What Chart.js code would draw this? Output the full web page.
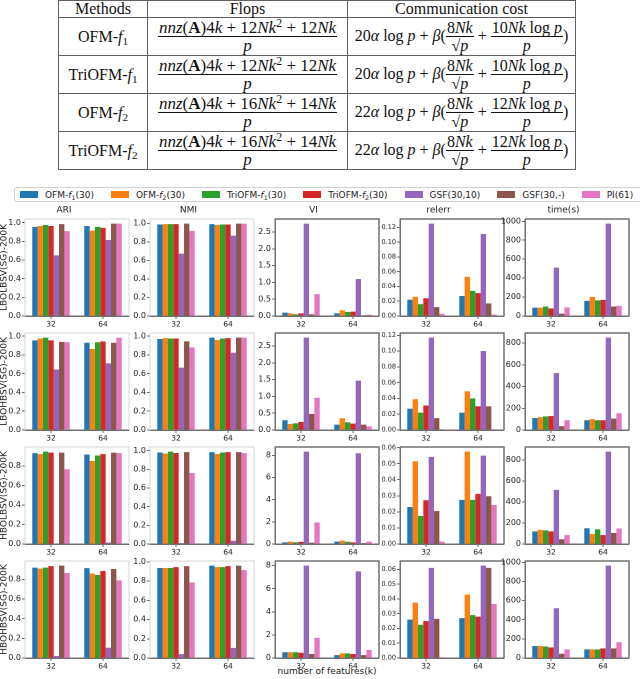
<!DOCTYPE html>
<html><head><meta charset="utf-8">
<script src="https://cdn.jsdelivr.net/npm/chart.js@4.4.0/dist/chart.umd.min.js"></script>
<style>
html,body{margin:0;padding:0;background:#fff;}
body{width:640px;height:679px;position:relative;overflow:hidden;font-family:"DejaVu Sans",sans-serif;}
#tbl{position:absolute;left:58px;top:0;width:517px;border-collapse:collapse;font-family:"Liberation Serif",serif;font-size:16px;color:#111;table-layout:fixed;}
#tbl td,#tbl th{border:1.5px solid #606060;text-align:center;padding:0;font-weight:normal;white-space:nowrap;}
#tbl th{height:16px;line-height:16px;}
#tbl td{height:37px;line-height:16px;}
#tbl td.fl{font-size:17px;}
.fr{display:inline-flex;flex-direction:column;vertical-align:middle;text-align:center;}
.fr>.n{border-bottom:1px solid #111;padding:0 1px;line-height:17px;}
.fr>.d{line-height:18px;}
.ov{text-decoration:overline;}
sup{font-size:70%;line-height:0;vertical-align:6px;}
sub{font-size:70%;line-height:0;vertical-align:-3px;}
#legend{position:absolute;left:14px;top:187px;width:640px;height:15px;border:1px solid #d0d0d0;border-radius:3px;display:flex;align-items:center;padding-left:5px;box-sizing:border-box;font-size:9px;color:#222;}
.li{display:flex;align-items:center;margin-right:17px;white-space:nowrap;}
.sw{width:18px;height:6.3px;margin-right:7px;}
.li sub{font-size:70%;vertical-align:-2px;}
.pn{position:absolute;}
#xl{position:absolute;left:227px;width:200px;top:666px;text-align:center;font-size:9px;color:#222;}
</style></head>
<body>
<table id="tbl">
<colgroup><col style="width:89px"><col style="width:200px"><col style="width:228px"></colgroup>
<tr><th>Methods</th><th>Flops</th><th>Communication cost</th></tr>
<tr><td>OFM-<i>f</i><sub>1</sub></td>
<td class="fl"><span class="fr"><span class="n"><i>nnz</i>(<b>A</b>)4<i>k</i> + 12<i>Nk</i><sup>2</sup> + 12<i>Nk</i></span><span class="d"><i>p</i></span></span></td>
<td>20<i>α</i> log <i>p</i> + <i>β</i>(<span class="fr"><span class="n">8<i>Nk</i></span><span class="d">√<span class="ov"><i>p</i></span></span></span> + <span class="fr"><span class="n">10<i>Nk</i> log <i>p</i></span><span class="d"><i>p</i></span></span>)</td></tr>
<tr><td>TriOFM-<i>f</i><sub>1</sub></td>
<td class="fl"><span class="fr"><span class="n"><i>nnz</i>(<b>A</b>)4<i>k</i> + 12<i>Nk</i><sup>2</sup> + 12<i>Nk</i></span><span class="d"><i>p</i></span></span></td>
<td>20<i>α</i> log <i>p</i> + <i>β</i>(<span class="fr"><span class="n">8<i>Nk</i></span><span class="d">√<span class="ov"><i>p</i></span></span></span> + <span class="fr"><span class="n">10<i>Nk</i> log <i>p</i></span><span class="d"><i>p</i></span></span>)</td></tr>
<tr><td>OFM-<i>f</i><sub>2</sub></td>
<td class="fl"><span class="fr"><span class="n"><i>nnz</i>(<b>A</b>)4<i>k</i> + 16<i>Nk</i><sup>2</sup> + 14<i>Nk</i></span><span class="d"><i>p</i></span></span></td>
<td>22<i>α</i> log <i>p</i> + <i>β</i>(<span class="fr"><span class="n">8<i>Nk</i></span><span class="d">√<span class="ov"><i>p</i></span></span></span> + <span class="fr"><span class="n">12<i>Nk</i> log <i>p</i></span><span class="d"><i>p</i></span></span>)</td></tr>
<tr><td>TriOFM-<i>f</i><sub>2</sub></td>
<td class="fl"><span class="fr"><span class="n"><i>nnz</i>(<b>A</b>)4<i>k</i> + 16<i>Nk</i><sup>2</sup> + 14<i>Nk</i></span><span class="d"><i>p</i></span></span></td>
<td>22<i>α</i> log <i>p</i> + <i>β</i>(<span class="fr"><span class="n">8<i>Nk</i></span><span class="d">√<span class="ov"><i>p</i></span></span></span> + <span class="fr"><span class="n">12<i>Nk</i> log <i>p</i></span><span class="d"><i>p</i></span></span>)</td></tr>
</table>
<div id="legend"></div>
<div id="xl">number of features(k)</div>
<script>
// ---------- data ----------
const categories = ['32', '64'];
const seriesNames = ['OFM-f1(30)', 'OFM-f2(30)', 'TriOFM-f1(30)', 'TriOFM-f2(30)', 'GSF(30,10)', 'GSF(30,-)', 'PI(61)'];
const seriesLegendHtml = ['OFM-<i>f</i><sub>1</sub>(30)', 'OFM-<i>f</i><sub>2</sub>(30)', 'TriOFM-<i>f</i><sub>1</sub>(30)', 'TriOFM-<i>f</i><sub>2</sub>(30)', 'GSF(30,10)', 'GSF(30,-)', 'PI(61)'];
const seriesColors = ['#1f77b4', '#ff7f0e', '#2ca02c', '#d62728', '#9467bd', '#8c564b', '#e377c2'];
const rowNames = ['LBOLBSV(SG)-200K', 'LBOHBSV(SG)-200K', 'HBOLBSV(SG)-200K', 'HBOHBSV(SG)-200K'];
const metricTitles = ['ARI', 'NMI', 'VI', 'relerr', 'time(s)'];

// each entry: [value at k=32, value at k=64], one per series
const lbolbsvARI    = [[0.955,0.965],[0.965,0.915],[0.975,0.955],[0.965,0.945],[0.65,0.815],[0.985,0.99],[0.91,0.99]];
const lbolbsvNMI    = [[0.99,0.995],[0.995,0.985],[0.995,0.99],[0.995,0.99],[0.675,0.87],[1.0,1.0],[0.92,1.0]];
const lbolbsvVI     = [[0.1,0.08],[0.08,0.17],[0.05,0.12],[0.08,0.13],[2.75,1.1],[0.05,0.02],[0.65,0.04]];
const lbolbsvRelerr = [[0.022,0.027],[0.026,0.053],[0.016,0.034],[0.024,0.031],[0.125,0.111],[0.012,0.017],[0.003,0.002]];
const lbolbsvTime   = [[88,160],[88,200],[100,165],[80,170],[510,975],[25,100],[90,108]];

const lbohbsvARI    = [[0.955,0.93],[0.975,0.865],[0.985,0.935],[0.955,0.945],[0.645,0.71],[0.94,0.93],[0.935,0.985]];
const lbohbsvNMI    = [[0.97,0.985],[0.98,0.96],[0.975,0.975],[0.975,0.98],[0.665,0.825],[0.945,0.985],[0.88,0.985]];
const lbohbsvVI     = [[0.29,0.16],[0.18,0.35],[0.2,0.23],[0.24,0.19],[2.75,1.47],[0.48,0.16],[0.96,0.11]];
const lbohbsvRelerr = [[0.027,0.022],[0.039,0.049],[0.022,0.04],[0.031,0.03],[0.117,0.1],[0.015,0.03],[0.001,0.001]];
const lbohbsvTime   = [[110,90],[118,100],[125,90],[128,90],[525,850],[35,105],[90,155]];

const hbolbsvARI    = [[0.93,0.915],[0.92,0.85],[0.945,0.905],[0.935,0.92],[0.0,0.015],[0.935,0.935],[0.765,0.93]];
const hbolbsvNMI    = [[0.98,0.985],[0.97,0.965],[0.99,0.98],[0.975,0.985],[0.01,0.035],[0.985,0.985],[0.76,0.975]];
const hbolbsvVI     = [[0.15,0.22],[0.22,0.3],[0.15,0.2],[0.2,0.15],[8.35,8.2],[0.12,0.08],[1.95,0.22]];
const hbolbsvRelerr = [[0.023,0.0275],[0.0515,0.0575],[0.0175,0.0275],[0.0272,0.0312],[0.0542,0.055],[0.0205,0.0297],[0.0015,0.0243]];
const hbolbsvTime   = [[120,150],[135,95],[130,140],[120,85],[515,880],[45,105],[85,148]];

const hbohbsvARI    = [[0.92,0.915],[0.91,0.86],[0.92,0.845],[0.935,0.885],[0.02,0.105],[0.94,0.905],[0.865,0.79]];
const hbohbsvNMI    = [[0.935,0.96],[0.935,0.945],[0.935,0.945],[0.945,0.955],[0.04,0.105],[0.955,0.96],[0.785,0.915]];
const hbohbsvVI     = [[0.5,0.25],[0.5,0.4],[0.5,0.4],[0.45,0.35],[8.0,7.5],[0.35,0.25],[1.75,0.7]];
const hbohbsvRelerr = [[0.026,0.027],[0.0375,0.043],[0.0225,0.029],[0.025,0.028],[0.061,0.0625],[0.0265,0.061],[0.0005,0.0365]];
const hbohbsvTime   = [[125,90],[125,90],[120,90],[110,100],[520,965],[45,100],[90,165]];

// tick values
const ticksUnit    = [0, 0.2, 0.4, 0.6, 0.8, 1.0];
const ticksVISmall = [0, 0.5, 1.0, 1.5, 2.0, 2.5];
const ticksVILarge = [0, 2, 4, 6, 8];
const ticksRelA    = [0, 0.02, 0.04, 0.06, 0.08, 0.10, 0.12];
const ticksRelB    = [0, 0.01, 0.02, 0.03, 0.04, 0.05, 0.06];
const ticksTime    = [0, 200, 400, 600, 800, 1000];

// ---------- assembly ----------
const panelData = [
  [lbolbsvARI, lbolbsvNMI, lbolbsvVI, lbolbsvRelerr, lbolbsvTime],
  [lbohbsvARI, lbohbsvNMI, lbohbsvVI, lbohbsvRelerr, lbohbsvTime],
  [hbolbsvARI, hbolbsvNMI, hbolbsvVI, hbolbsvRelerr, hbolbsvTime],
  [hbohbsvARI, hbohbsvNMI, hbohbsvVI, hbohbsvRelerr, hbohbsvTime]
];
const panelTicks = [
  [ticksUnit, ticksUnit, ticksVISmall, ticksRelA, ticksTime],
  [ticksUnit, ticksUnit, ticksVISmall, ticksRelA, ticksTime],
  [ticksUnit, ticksUnit, ticksVILarge, ticksRelB, ticksTime],
  [ticksUnit, ticksUnit, ticksVILarge, ticksRelB, ticksTime]
];
const panelDecimals = [[1,1,1,2,0],[1,1,1,2,0],[1,1,0,2,0],[1,1,0,2,0]];

// legend
const legendEl = document.getElementById('legend');
seriesLegendHtml.forEach((h, i) => {
  const d = document.createElement('div'); d.className = 'li';
  d.innerHTML = '<span class="sw" style="background:' + seriesColors[i] + '"></span><span>' + h + '</span>';
  legendEl.appendChild(d);
});

// layout
const colLeft = [25, 150, 275, 400, 525];
const plotW = 104;
const rowTop = [219, 333, 447, 561];
const plotH = 97;

const framePlugin = {
  id: 'frame',
  afterDraw(chart, args, opts) {
    const {ctx, chartArea: a} = chart;
    ctx.save();
    ctx.strokeStyle = opts.color; ctx.lineWidth = opts.width;
    ctx.beginPath();
    ctx.moveTo(a.left, a.top); ctx.lineTo(a.right, a.top); ctx.lineTo(a.right, a.bottom);
    ctx.stroke();
    ctx.restore();
  }
};

function makePanel(r, c) {
  const series = panelData[r][c];
  const ymax = Math.max(...series.flat()) * 1.05;
  const tickVals = panelTicks[r][c];
  const dec = panelDecimals[r][c];
  const light = c < 2;
  const yW = c === 0 ? 26 : 27;
  const topPad = r === 0 ? 14 : 6;
  const xH = 15;
  const rightPad = 3;
  const cw = yW + plotW + rightPad, ch = topPad + plotH + xH;
  const div = document.createElement('div');
  div.className = 'pn';
  div.style.left = (colLeft[c] - yW) + 'px';
  div.style.top = (rowTop[r] - topPad) + 'px';
  div.style.width = cw + 'px'; div.style.height = ch + 'px';
  const cv = document.createElement('canvas');
  cv.width = cw; cv.height = ch;
  cv.style.width = cw + 'px'; cv.style.height = ch + 'px';
  div.appendChild(cv);
  document.body.appendChild(div);
  new Chart(cv, {
    type: 'bar',
    data: {
      labels: categories,
      datasets: seriesNames.map((n, i) => ({
        label: n, data: series[i], backgroundColor: seriesColors[i],
        borderWidth: 0, barPercentage: 1.0, categoryPercentage: 0.72
      }))
    },
    options: {
      responsive: false, animation: false, devicePixelRatio: 2,
      layout: {padding: {top: r === 0 ? 0 : topPad, right: rightPad, left: 0, bottom: 0}},
      plugins: {
        legend: {display: false}, tooltip: {enabled: false},
        title: {display: r === 0, text: metricTitles[c], color: '#222',
                font: {family: 'DejaVu Sans', size: 9, weight: 'normal'}, padding: {top: 0, bottom: 3.2}},
        frame: {color: light ? '#d4d4d4' : '#707070', width: light ? 1 : 1.5}
      },
      scales: {
        x: {
          offset: true,
          grid: {display: true, drawOnChartArea: false, drawTicks: true, tickLength: 3, offset: false, color: '#444', lineWidth: 0.8},
          border: {display: true, color: '#707070', width: 1.5},
          ticks: {font: {family: 'DejaVu Sans', size: 7.5}, color: '#222', padding: 1, maxRotation: 0},
          afterFit: s => { s.height = xH; s.paddingLeft = 0; s.paddingRight = 0; }
        },
        y: {
          min: 0, max: ymax,
          afterBuildTicks: s => { s.ticks = tickVals.filter(v => v <= ymax + 1e-12).map(v => ({value: v})); },
          afterFit: s => { s.width = yW; s.paddingTop = 0; s.paddingBottom = 0; },
          grid: {display: true, drawOnChartArea: false, drawTicks: true, tickLength: 3, color: '#444', lineWidth: 0.8},
          border: {display: true, color: light ? '#d4d4d4' : '#707070', width: light ? 1 : 1.5},
          ticks: {font: {family: 'DejaVu Sans', size: c === 3 ? 6.5 : 8}, color: '#222', padding: 1, autoSkip: false,
                  callback: v => Number(v).toFixed(dec)},
          title: {display: c === 0, text: rowNames[r], color: '#222',
                  font: {family: 'DejaVu Sans', size: 9}, padding: {top: 0, bottom: 0}}
        }
      }
    },
    plugins: [framePlugin]
  });
}

for (let r = 0; r < 4; r++) for (let c = 0; c < 5; c++) makePanel(r, c);
</script>
</body></html>
